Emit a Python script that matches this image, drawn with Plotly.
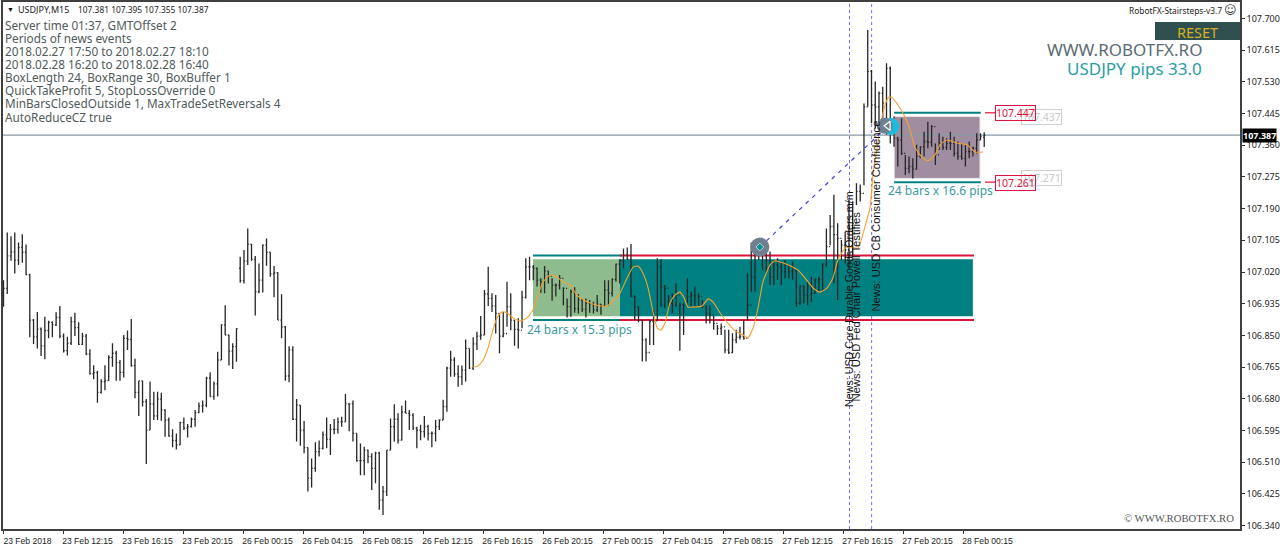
import plotly.graph_objects as go

OPEN = [106.976,106.976,107.063,107.074,107.052,107.086,107.073,107.013,106.891,106.846,106.867,106.822,106.863,106.885,106.878,106.898,106.848,106.809,106.829,106.887,
106.871,106.826,106.848,106.800,106.747,106.750,106.697,106.726,106.729,106.791,106.802,106.777,106.751,106.842,106.839,106.769,106.697,106.728,106.672,106.596,
106.666,106.634,106.679,106.650,106.623,106.580,106.568,106.556,106.616,106.601,106.605,106.625,106.643,106.660,106.663,106.735,106.686,106.720,106.784,106.878,
106.851,106.808,106.820,107.030,106.997,107.049,107.095,107.054,106.967,106.998,107.092,107.073,107.015,107.018,106.891,106.873,106.741,106.811,106.625,106.663,
106.596,106.549,106.467,106.493,106.538,106.547,106.583,106.571,106.598,106.598,106.618,106.618,106.666,106.666,106.587,106.514,106.514,106.542,106.525,106.493,
106.534,106.408,106.431,106.542,106.605,106.625,106.569,106.645,106.641,106.636,106.601,106.596,106.592,106.605,106.587,106.587,106.605,106.623,106.659,106.762,
106.784,106.746,106.739,106.757,106.815,106.762,106.827,106.848,106.851,106.961,106.949,106.929,106.909,106.848,106.855,106.927,106.891,106.866,106.864,106.952,
107.034,107.034,107.030,106.998,106.994,107.023,107.009,106.985,106.985,107.003,106.976,106.927,106.967,106.922,106.945,106.920,106.936,106.934,106.918,106.934,
106.929,106.972,106.963,107.000,107.041,107.052,107.065,107.054,106.955,106.927,106.891,106.838,106.804,106.887,106.889,107.034,106.981,106.976,106.936,106.931,
106.958,106.931,106.931,106.954,106.958,106.956,106.954,106.927,106.907,106.905,106.882,106.869,106.873,106.811,106.804,106.838,106.845,106.847,106.842,106.931,
107.007,107.088,107.079,107.070,107.052,107.007,107.039,107.034,107.021,107.039,107.021,107.024,106.936,106.981,106.958,106.981,106.963,106.999,107.000,107.041,
107.088,107.142,107.120,107.110,107.092,107.079,107.088,107.150,107.236,107.231,107.463,107.558,107.468,107.463,107.499,107.473,107.566,107.405,107.379,107.374,
107.338,107.298,107.303,107.296,107.330,107.356,107.370,107.368,107.410,107.334,107.365,107.354,107.365,107.365,107.338,107.330,107.325,107.343,107.343,107.352,
107.374,107.381]
HIGH = [106.998,107.126,107.116,107.126,107.099,107.121,107.094,107.015,106.894,106.913,106.871,106.900,106.889,106.887,106.912,106.929,106.855,106.846,106.900,106.911,
106.885,106.857,106.854,106.813,106.770,106.755,106.732,106.770,106.797,106.829,106.809,106.784,106.851,106.863,106.894,106.787,106.728,106.728,106.679,106.726,
106.699,106.699,106.696,106.652,106.630,106.598,106.587,106.618,106.630,106.612,106.630,106.650,106.670,106.675,106.739,106.751,106.726,106.806,106.880,106.931,
106.851,106.829,106.869,107.061,107.079,107.137,107.095,107.063,107.043,107.094,107.110,107.073,107.036,107.019,106.960,106.875,106.821,106.821,106.679,106.663,
106.620,106.549,106.520,106.563,106.568,106.592,106.630,106.612,106.626,106.630,106.632,106.693,106.668,106.675,106.587,106.560,106.551,106.544,106.534,106.538,
106.538,106.446,106.542,106.627,106.665,106.641,106.661,106.675,106.650,106.641,106.605,106.610,106.634,106.610,106.592,106.623,106.625,106.677,106.766,106.809,
106.791,106.770,106.769,106.839,106.815,106.845,106.860,106.902,106.972,107.034,106.963,106.958,106.909,106.913,106.994,106.963,106.891,106.896,106.970,107.057,
107.061,107.039,107.032,107.003,107.036,107.023,107.003,106.989,107.012,106.979,106.949,106.973,106.979,106.961,106.949,106.949,106.945,106.940,106.958,106.934,
106.998,106.998,107.003,107.043,107.054,107.083,107.086,107.095,106.957,106.927,106.891,106.842,106.891,106.918,107.057,107.054,106.985,106.958,106.963,106.990,
106.938,106.936,107.003,106.967,106.981,106.963,106.945,106.931,106.931,106.902,106.878,106.882,106.865,106.865,106.856,106.865,106.873,106.891,107.016,107.099,
107.101,107.088,107.092,107.079,107.075,107.052,107.057,107.048,107.052,107.039,107.048,107.025,106.985,106.985,106.994,107.007,107.003,107.007,107.043,107.137,
107.173,107.227,107.151,107.106,107.128,107.213,107.210,107.258,107.255,107.472,107.669,107.562,107.531,107.504,107.517,107.580,107.571,107.437,107.383,107.432,
107.334,107.330,107.325,107.361,107.356,107.396,107.423,107.414,107.365,107.392,107.383,107.379,107.396,107.383,107.370,107.365,107.361,107.370,107.356,107.392,
107.392,107.395]
LOW = [106.927,106.961,107.050,107.016,107.039,107.045,107.011,106.845,106.827,106.815,106.795,106.786,106.842,106.845,106.875,106.842,106.804,106.796,106.824,106.848,
106.824,106.824,106.797,106.745,106.732,106.669,106.694,106.703,106.728,106.766,106.728,106.728,106.737,106.811,106.766,106.681,106.634,106.659,106.505,106.596,
106.623,106.623,106.621,106.578,106.578,106.550,106.544,106.556,106.596,106.576,106.603,106.605,106.641,106.643,106.657,106.686,106.677,106.686,106.784,106.851,
106.769,106.760,106.779,106.991,106.989,107.039,107.050,106.903,106.963,106.965,107.037,107.007,106.952,106.891,106.842,106.728,106.724,106.623,106.565,106.554,
106.534,106.431,106.442,106.484,106.525,106.544,106.547,106.529,106.585,106.587,106.605,106.618,106.593,106.565,106.511,106.475,106.475,106.507,106.435,106.453,
106.382,106.368,106.419,106.542,106.565,106.560,106.568,106.641,106.596,106.596,106.547,106.569,106.576,106.568,106.550,106.565,106.596,106.623,106.645,106.739,
106.739,106.712,106.717,106.726,106.760,106.757,106.811,106.838,106.851,106.929,106.913,106.855,106.802,106.845,106.873,106.864,106.822,106.815,106.869,106.949,
106.998,106.998,106.981,106.964,106.963,106.989,106.943,106.954,106.973,106.931,106.898,106.900,106.911,106.909,106.913,106.898,106.911,106.909,106.913,106.905,
106.929,106.929,106.954,106.994,106.989,107.030,107.052,106.952,106.891,106.885,106.780,106.780,106.824,106.824,106.891,106.927,106.923,106.923,106.909,106.927,
106.809,106.851,106.936,106.927,106.927,106.927,106.923,106.882,106.882,106.865,106.851,106.851,106.802,106.800,106.802,106.829,106.839,106.838,106.891,106.967,
106.967,107.052,107.025,107.016,106.985,106.985,106.999,106.985,107.003,107.003,106.999,106.927,106.932,106.936,106.931,106.940,106.963,106.967,106.967,107.034,
107.092,106.990,106.945,107.052,107.043,107.030,107.060,107.200,107.209,107.253,107.464,107.419,107.405,107.423,107.428,107.388,107.365,107.356,107.303,107.334,
107.280,107.285,107.271,107.294,107.325,107.330,107.352,107.356,107.307,107.347,107.347,107.347,107.347,107.330,107.321,107.321,107.303,107.325,107.330,107.338,
107.374,107.355]
CLOSE = [106.976,107.063,107.074,107.052,107.086,107.073,107.013,106.891,106.846,106.867,106.822,106.863,106.885,106.878,106.898,106.848,106.809,106.829,106.887,106.871,
106.826,106.848,106.800,106.747,106.750,106.697,106.726,106.729,106.791,106.802,106.777,106.751,106.842,106.839,106.769,106.697,106.728,106.672,106.596,106.666,
106.634,106.679,106.650,106.623,106.580,106.568,106.556,106.616,106.601,106.605,106.625,106.643,106.660,106.663,106.735,106.686,106.720,106.784,106.878,106.851,
106.808,106.820,106.868,106.997,107.049,107.095,107.054,106.967,106.998,107.092,107.073,107.015,107.018,106.891,106.873,106.741,106.811,106.625,106.663,106.596,
106.549,106.467,106.493,106.538,106.547,106.583,106.571,106.598,106.598,106.618,106.618,106.666,106.666,106.587,106.514,106.514,106.542,106.525,106.493,106.534,
106.408,106.431,106.542,106.605,106.625,106.569,106.645,106.641,106.636,106.601,106.596,106.592,106.605,106.587,106.587,106.605,106.623,106.659,106.762,106.784,
106.746,106.739,106.757,106.815,106.762,106.827,106.848,106.851,106.961,106.949,106.929,106.909,106.848,106.855,106.927,106.891,106.866,106.864,106.952,107.034,
107.034,107.030,106.998,106.994,107.023,107.009,106.985,106.985,107.003,106.976,106.927,106.967,106.922,106.945,106.920,106.936,106.934,106.918,106.934,106.929,
106.972,106.963,107.000,107.041,107.052,107.065,107.054,106.955,106.927,106.891,106.838,106.804,106.887,106.889,107.034,106.981,106.976,106.936,106.931,106.958,
106.931,106.931,106.954,106.958,106.956,106.954,106.927,106.907,106.905,106.882,106.869,106.873,106.811,106.804,106.838,106.845,106.847,106.842,106.931,107.007,
107.088,107.079,107.070,107.052,107.007,107.039,107.034,107.021,107.039,107.021,107.024,106.936,106.981,106.958,106.981,106.963,106.999,107.000,107.041,107.088,
107.142,107.120,107.110,107.092,107.079,107.088,107.150,107.236,107.231,107.463,107.558,107.468,107.463,107.499,107.473,107.566,107.405,107.379,107.374,107.338,
107.298,107.303,107.296,107.330,107.356,107.370,107.368,107.410,107.334,107.365,107.354,107.365,107.365,107.338,107.330,107.325,107.343,107.343,107.352,107.374,
107.383,107.387]
BAR_INDEX = [i * 1.002 for i in range(len(CLOSE))]

TICK_BARS = [0,16,32,48,64,80,96,112,128,144,160,176,192,208,224,240,256]
TICK_LABELS = ["23 Feb 2018","23 Feb 12:15","23 Feb 16:15","23 Feb 20:15","26 Feb 00:15","26 Feb 04:15","26 Feb 08:15",
               "26 Feb 12:15","26 Feb 16:15","26 Feb 20:15","27 Feb 00:15","27 Feb 04:15","27 Feb 08:15","27 Feb 12:15",
               "27 Feb 16:15","27 Feb 20:15","28 Feb 00:15"]
PRICE_TICKS = [107.700,107.615,107.530,107.445,107.360,107.275,107.190,107.105,107.020,106.935,106.850,106.765,106.680,106.595,106.510,106.425,106.340]

MA_X = [125.2,126.5,127.9,129.2,130.5,131.6,132.9,134.3,135.9,137.7,139.6,141.2,142.5,143.9,145.7,147.6,149.2,151.1,152.9,155.6,158.3,160.9,164.1,166.3,167.9,169.2,170.5,171.9,173.2,174.3,175.3,176.4,177.7,179.1,180.4,181.5,182.5,183.9,186.3,187.9,189.2,191.1,192.9,195.1,197.2,198.5,199.9,201.2,202.5,204.4,205.7,207.9,210.5,211.9,213.7,215.9,217.7,219.6,221.2,222.5,224.4,225.7,227.9,229.7,231.1,231.9,233.2,234.5,235.9,236.9,238.5,240.4,242.0,243.0,244.9,246.5,248.4,249.7,251.6,254.2,256.9,259.1,261.2]
MA_Y = [106.765,106.768,106.784,106.816,106.864,106.897,106.913,106.910,106.897,106.889,106.897,106.918,106.958,106.993,107.012,107.007,106.993,106.985,106.958,106.940,106.931,106.929,106.958,107.004,107.033,107.036,107.017,106.977,106.913,106.870,106.864,106.883,106.937,106.958,106.966,106.950,106.926,106.926,106.929,106.948,106.940,106.910,106.886,106.862,106.851,106.843,106.870,106.923,106.993,107.039,107.050,107.044,107.033,107.025,107.004,106.977,106.966,106.977,107.004,107.052,107.084,107.087,107.084,107.141,107.194,107.286,107.366,107.446,107.487,107.489,107.468,107.436,107.393,107.355,107.328,107.318,107.334,107.361,107.374,107.366,107.361,107.342,107.342]

TRADE_X = [201.7,235.9]
TRADE_Y = [107.087,107.412]
NEWS_BARS = [225.6,231.5]
BID = 107.387
BOX1_INNER = [107.054,106.901]
BOX1_OUTER = [107.064,106.891]
BOX1_SPAN = [141.2,164.4,258.5]
BOX2_INNER = [107.437,107.271]
BOX2_OUTER = [107.447,107.261]
BOX2_SPAN = [237.5,260.4]

STATUS = ["Server time 01:37, GMTOffset 2","Periods of news events","2018.02.27 17:50 to 2018.02.27 18:10",
          "2018.02.28 16:20 to 2018.02.28 16:40","BoxLength 24, BoxRange 30, BoxBuffer 1",
          "QuickTakeProfit 5, StopLossOverride 0","MinBarsClosedOutside 1, MaxTradeSetReversals 4","AutoReduceCZ true"]

L, R, T, B = 3, 1240, 2, 529
W, H = 1280, 549
px_to_bar = lambda px: (px - 3.5) / 3.75
py_to_price = lambda py: 107.7496 - py * 0.0026824
PX = lambda px: (px - L) / (R - L)
PY = lambda py: (B - py) / (B - T)

shapes = []
def rect(x0, x1, y0, y1, fill, line=None, lw=0):
    shapes.append(dict(type="rect", xref="x", yref="y", x0=x0, x1=x1, y0=y0, y1=y1, fillcolor=fill,
                       line=dict(color=line or fill, width=lw), layer="below"))
def hline(x0, x1, y, color, w):
    shapes.append(dict(type="line", xref="x", yref="y", x0=x0, x1=x1, y0=y, y1=y,
                       line=dict(color=color, width=w), layer="below"))

rect(BOX1_SPAN[1], BOX1_SPAN[2], BOX1_INNER[1], BOX1_INNER[0], "#008080")
rect(BOX1_SPAN[0], BOX1_SPAN[1], BOX1_INNER[1], BOX1_INNER[0], "#8FBC8F")
rect(BOX2_SPAN[0], BOX2_SPAN[1], BOX2_INNER[1], BOX2_INNER[0], "#A08EA0", "#EDE8ED", 1)
for y in BOX1_OUTER:
    hline(BOX1_SPAN[0], BOX1_SPAN[1] + 0.5, y, "#008080", 2)
    hline(BOX1_SPAN[1], BOX1_SPAN[2] + 0.3, y, "#DC143C", 2)
for y in BOX2_OUTER:
    hline(BOX2_SPAN[0], BOX2_SPAN[1] + 0.2, y, "#008080", 2)
    hline(px_to_bar(985), px_to_bar(995), y, "#DC143C", 1.2)
hline(-1, 330, BID, "#8899A6", 1.2)
for b in NEWS_BARS:
    shapes.append(dict(type="line", xref="x", yref="paper", x0=b, x1=b, y0=0, y1=1,
                       line=dict(color="#7B68EE", width=1, dash="dot"), layer="below"))
shapes.append(dict(type="rect", xref="paper", yref="paper", x0=PX(1155), x1=PX(1240), y0=PY(40), y1=PY(22),
                   fillcolor="#2F4F4F", line=dict(width=0), layer="below"))

fig = go.Figure()
fig.add_trace(go.Ohlc(x=BAR_INDEX, open=OPEN, high=HIGH, low=LOW, close=CLOSE, tickwidth=0.3, line_width=1.3,
                      increasing_line_color="#262626", decreasing_line_color="#262626", hoverinfo="skip", showlegend=False))
fig.add_trace(go.Scatter(x=MA_X, y=MA_Y, mode="lines", line=dict(color="#F4A234", width=1.1, shape="spline", smoothing=0.5),
                         hoverinfo="skip", showlegend=False))
fig.add_trace(go.Scatter(x=TRADE_X, y=TRADE_Y, mode="lines", line=dict(color="#3F3FE6", width=1.2, dash="4px,5px"),
                         hoverinfo="skip", showlegend=False))
# trade markers
fig.add_trace(go.Scatter(x=[TRADE_X[1] + 0.7], y=[TRADE_Y[1] - 0.002], mode="markers",
                         marker=dict(symbol="circle", size=17, color="#19BDE0"), hoverinfo="skip", showlegend=False))
fig.add_trace(go.Scatter(x=[TRADE_X[0]], y=[TRADE_Y[0]], mode="markers",
                         marker=dict(symbol="circle", size=19, color="#708090"), hoverinfo="skip", showlegend=False))
fig.add_trace(go.Scatter(x=[TRADE_X[1] - 0.9], y=[TRADE_Y[1]], mode="markers",
                         marker=dict(symbol="circle", size=16, color="#708090"), hoverinfo="skip", showlegend=False))
fig.add_trace(go.Scatter(x=[TRADE_X[1]], y=[TRADE_Y[1]], mode="markers",
                         marker=dict(symbol="triangle-left-open", size=8, color="#FFFFFF", line=dict(width=1.2, color="#FFFFFF")),
                         hoverinfo="skip", showlegend=False))
fig.add_trace(go.Scatter(x=[TRADE_X[0]], y=[TRADE_Y[0]], mode="markers",
                         marker=dict(symbol="diamond", size=6, color="#0F8C8C", line=dict(width=1, color="#B8DCDC")),
                         hoverinfo="skip", showlegend=False))

UI = "Noto Sans"
ann = []
def text(s, px, py, size, color, xa="left", ya="middle", family=UI, **kw):
    ann.append(dict(text=s, xref="paper", yref="paper", x=PX(px), y=PY(py), xanchor=xa, yanchor=ya, showarrow=False,
                    font=dict(size=size, color=color, family=family), borderpad=0, **kw))

text("▼", 6, 9.5, 7, "#111111")
text("USDJPY,M15", 17, 9.5, 9, "#222222")
text("107.381 107.395 107.355 107.387", 77, 9.5, 8.4, "#222222")
for i, s in enumerate(STATUS):
    text(s, 4, 24.5 + i * 13.15, 11.75, "#4F5A5A")
text("RobotFX-Stairsteps-v3.7", 1223, 10.5, 8.4, "#222222", xa="right")
text("☺", 1230, 10.5, 12, "#333333", xa="center", family="DejaVu Sans")
text("RESET", 1197, 31.5, 14.5, "#D8B020", xa="center")
text("WWW.ROBOTFX.RO", 1203, 49, 17, "#5B6B73", xa="right")
text("USDJPY pips 33.0", 1203, 68, 17, "#2A9DA6", xa="right")
text("24 bars x 15.3 pips", 526, 330, 12, "#3A9AA0")
text("24 bars x 16.6 pips", 887, 190.5, 12, "#3A9AA0")
text("© WWW.ROBOTFX.RO", 1235, 518, 10.7, "#555555", xa="right", family="Liberation Serif")
# price labels
for label, px, py in [("107.437", 1021, 117), ("107.271", 1021, 178)]:
    text(label, px, py, 10.5, "#C8C8C8", bordercolor="#D0D0D0", borderwidth=1)
for label, px, py in [("107.447", 995, 113.5), ("107.261", 995, 182.5)]:
    text(label, px, py, 10.5, "#DC143C", bordercolor="#DC143C", borderwidth=1)
# news
text("News: USD Core Durable Goods Orders m/m", 849, 408, 10.7, "#111111", xa="center", ya="bottom", family="Liberation Sans", textangle=-90)
text("News: USD Fed Chair Powell Testifies", 855.5, 403, 11.2, "#111111", xa="center", ya="bottom", family="Liberation Sans", textangle=-90)
text("News: USD CB Consumer Confidence", 875, 313, 11.2, "#111111", xa="center", ya="bottom", family="Liberation Sans", textangle=-90)
# live price label
ann.append(dict(text="<b>107.387</b>", xref="paper", yref="y", x=1.0, y=BID, xanchor="left", yanchor="middle", xshift=2,
                showarrow=False, bgcolor="#000000", font=dict(size=9, color="#FFFFFF", family="Noto Sans"), borderpad=0))

fig.update_layout(
    width=W, height=H, autosize=False, paper_bgcolor="#FFFFFF", plot_bgcolor="#FFFFFF",
    margin=dict(l=L, r=W - R, t=T, b=H - B, pad=0, autoexpand=False), showlegend=False,
    shapes=shapes, annotations=ann,
    xaxis=dict(type="linear", range=[px_to_bar(L), px_to_bar(R)], tickmode="array", tickvals=TICK_BARS, ticktext=TICK_LABELS,
               ticks="outside", ticklen=3, tickwidth=1, tickcolor="#333333", showgrid=False, zeroline=False,
               showline=True, linecolor="#404040", linewidth=1.5, mirror=True, rangeslider=dict(visible=False),
               tickangle=0, ticklabelshift=24, ticklabeloverflow="allow", tickfont=dict(size=8.6, color="#222222", family="Liberation Sans")),
    yaxis=dict(range=[py_to_price(B), py_to_price(T)], side="right", tickmode="array", tickvals=PRICE_TICKS, tickformat=".3f",
               ticks="outside", ticklen=3, tickwidth=1, tickcolor="#333333", showgrid=False, zeroline=False,
               showline=True, linecolor="#404040", linewidth=1.5, mirror=True,
               tickfont=dict(size=9, color="#222222", family="Noto Sans")),
)
fig.write_html("out.html", config=dict(displayModeBar=False), post_script="document.body.style.margin='0';")
